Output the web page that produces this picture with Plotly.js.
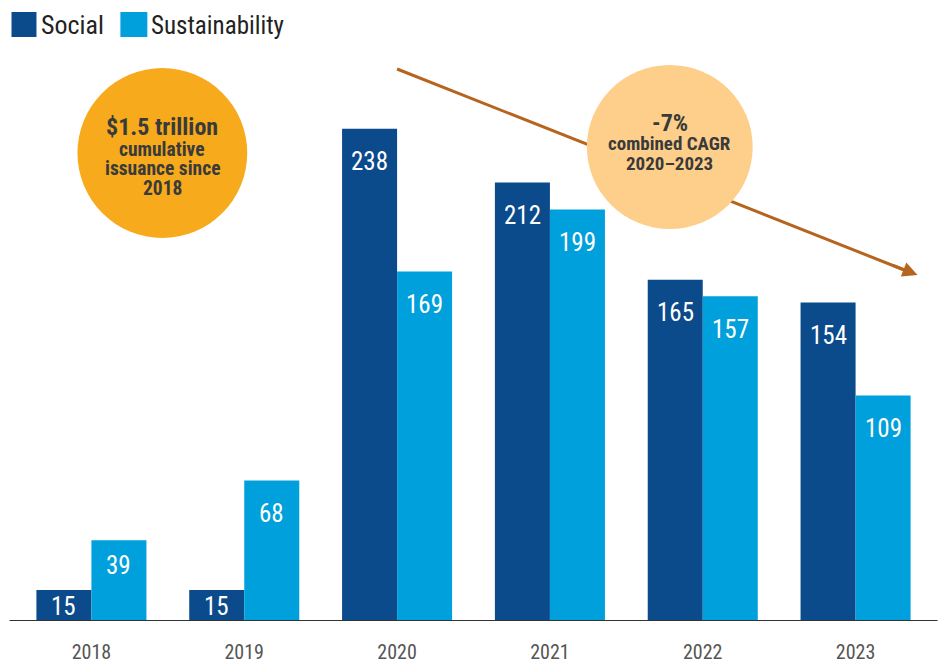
<!DOCTYPE html>
<html>
<head>
<meta charset="utf-8">
<script src="https://cdn.plot.ly/plotly-3.0.1.min.js"></script>
<style>html,body{margin:0;padding:0;background:#fff;}#chart{width:938px;height:665px;}</style>
</head>
<body>
<div id="chart"></div>
<script>
const years = ['2018', '2019', '2020', '2021', '2022', '2023'];
const social = [15, 15, 238, 212, 165, 154];
const sustainability = [39, 68, 169, 199, 157, 109];
const seriesNames = ['Social', 'Sustainability'];
const bubble1Lines = ['$1.5 trillion', 'cumulative', 'issuance since', '2018'];
const bubble2Lines = ['-7%', 'combined CAGR', '2020\u20132023'];

const FONT = '"Roboto Condensed", "DejaVu Sans Condensed", sans-serif';
const C_SOCIAL = '#0b4a8b';
const C_SUST = '#00a0dc';
const W = 938, H = 665;
const M = {l: 14.5, r: 5.5, t: 104, b: 44};
const PW = W - M.l - M.r, PH = H - M.t - M.b;
const YMAX = 250;
const pxPerUnit = PH / YMAX;
const px = x => (x - M.l) / PW;       // pixel x -> paper
const py = y => (H - M.b - y) / PH;   // pixel y -> paper

const traces = [
  {type: 'bar', name: seriesNames[0], x: years, y: social, marker: {color: C_SOCIAL}, hoverinfo: 'x+y'},
  {type: 'bar', name: seriesNames[1], x: years, y: sustainability, marker: {color: C_SUST}, hoverinfo: 'x+y'}
];

const annotations = [];
function barLabels(vals, xshift) {
  vals.forEach((v, i) => {
    const h = v * pxPerUnit;
    const off = Math.min(33, Math.max(17, 0.31 * h));
    annotations.push({x: i, y: v, xref: 'x', yref: 'y', text: String(v), showarrow: false,
      xshift: xshift, yshift: -off, yanchor: 'middle', xanchor: 'center',
      font: {family: FONT, size: 25, color: '#ffffff'}});
  });
}
barLabels(social, -27.5);
barLabels(sustainability, 27.5);

// legend
annotations.push({x: px(39), y: py(25), xref: 'paper', yref: 'paper', text: seriesNames[0], showarrow: false,
  xanchor: 'left', yanchor: 'middle', font: {family: FONT, size: 26, color: '#222'}});
annotations.push({x: px(149), y: py(25), xref: 'paper', yref: 'paper', text: seriesNames[1], showarrow: false,
  xanchor: 'left', yanchor: 'middle', font: {family: FONT, size: 25, color: '#222'}});

// bubble texts
const b1y = [127, 149, 168, 188], b1s = [24, 19.5, 19.5, 19.5];
bubble1Lines.forEach((t, i) => annotations.push({x: px(162), y: py(b1y[i]), xref: 'paper', yref: 'paper',
  text: '<b>' + t + '</b>', showarrow: false, xanchor: 'center', yanchor: 'middle',
  font: {family: FONT, size: b1s[i], color: '#3a3a3a'}}));
const b2y = [123, 144, 163], b2s = [24, 19, 19];
bubble2Lines.forEach((t, i) => annotations.push({x: px(670), y: py(b2y[i]), xref: 'paper', yref: 'paper',
  text: '<b>' + t + '</b>', showarrow: false, xanchor: 'center', yanchor: 'middle',
  font: {family: FONT, size: b2s[i], color: '#3a3a3a'}}));

// arrowhead
annotations.push({x: px(918), y: py(275), xref: 'paper', yref: 'paper', text: '', showarrow: true,
  ax: -26, ay: -10.3, arrowhead: 2, arrowsize: 1, arrowwidth: 3, arrowcolor: '#b5651e', standoff: 0});

const shapes = [
  {type: 'rect', xref: 'paper', yref: 'paper', x0: px(11), x1: px(36), y0: py(37), y1: py(12), fillcolor: C_SOCIAL, line: {width: 0}},
  {type: 'rect', xref: 'paper', yref: 'paper', x0: px(120), x1: px(147), y0: py(37), y1: py(12), fillcolor: C_SUST, line: {width: 0}},
  {type: 'line', xref: 'paper', yref: 'paper', x0: px(397), y0: py(69), x1: px(906), y1: py(270.5), line: {color: '#b5651e', width: 3}},
  {type: 'circle', xref: 'paper', yref: 'paper', x0: px(587), x1: px(753), y0: py(229), y1: py(65), fillcolor: '#fecf8b', line: {width: 0}},
  {type: 'circle', xref: 'paper', yref: 'paper', x0: px(77), x1: px(247), y0: py(238), y1: py(68), fillcolor: '#f6aa1c', line: {width: 0}},
  {type: 'line', xref: 'paper', yref: 'y', x0: px(9), x1: px(938), y0: 0, y1: 0, line: {color: '#333', width: 2}, layer: 'above'}
];

const layout = {
  width: W, height: H,
  margin: M,
  paper_bgcolor: '#fff', plot_bgcolor: '#fff',
  barmode: 'group', bargap: 0.28, bargroupgap: 0,
  showlegend: false,
  xaxis: {type: 'category', range: [-0.5, 5.5], autorange: false, showgrid: false, zeroline: false, showline: false, ticks: '',
    ticklabelstandoff: 17, tickfont: {family: FONT, size: 20, color: '#555'}},
  yaxis: {range: [0, YMAX], autorange: false, visible: false, showgrid: false, zeroline: false},
  shapes: shapes,
  annotations: annotations,
  font: {family: FONT}
};

Plotly.newPlot('chart', traces, layout, {displayModeBar: false, staticPlot: true});
</script>
</body>
</html>
